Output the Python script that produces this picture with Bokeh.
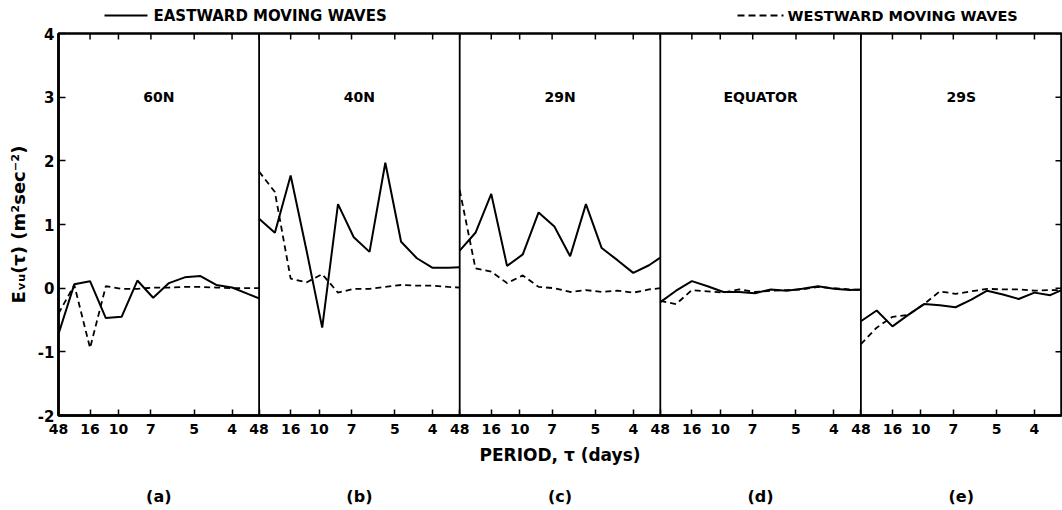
from bokeh.plotting import figure
from bokeh.models import FixedTicker, Span, Range1d
from bokeh.layouts import column
from bokeh.core.properties import value
from bokeh.embed import file_html
from bokeh.resources import INLINE

# ---------------- data ----------------
station_names = ["60N", "40N", "29N", "EQUATOR", "29S"]
panel_tags = ["(a)", "(b)", "(c)", "(d)", "(e)"]
# periods (days) of the plotted spectral estimates (harmonics of 48 days)
periods = [48, 24, 16, 12, 9.6, 8, 48 / 7, 6, 48 / 9, 4.8, 48 / 11, 4, 48 / 13, 3.5]
tick_periods = [48, 16, 10, 7, 5, 4]
tick_labels = ["48", "16", "10", "7", "5", "4"]
y_ticks = [-2, -1, 0, 1, 2, 3, 4]
y_tick_labels = ["-2", "-1", "0", "1", "2", "3", "4"]

east_60N = [-0.72, 0.06, 0.11, -0.47, -0.45, 0.12, -0.15, 0.08, 0.17, 0.19, 0.05, 0.01, -0.09, -0.16]
west_60N = [-0.40, 0.05, -0.94, 0.03, -0.01, -0.01, 0.01, 0.01, 0.02, 0.02, 0.01, 0.0, 0.0, 0.0]
east_40N = [1.09, 0.87, 1.77, 0.60, -0.62, 1.32, 0.80, 0.57, 1.97, 0.73, 0.47, 0.32, 0.32, 0.33]
west_40N = [1.83, 1.51, 0.15, 0.09, 0.22, -0.07, -0.01, -0.01, 0.02, 0.05, 0.04, 0.04, 0.02, 0.01]
east_29N = [0.59, 0.87, 1.48, 0.35, 0.53, 1.19, 0.97, 0.50, 1.32, 0.63, 0.44, 0.24, 0.36, 0.48]
west_29N = [1.54, 0.31, 0.26, 0.08, 0.20, 0.02, 0.0, -0.06, -0.03, -0.06, -0.04, -0.07, -0.02, 0.0]
east_EQ = [-0.22, -0.04, 0.11, 0.03, -0.06, -0.06, -0.08, -0.02, -0.04, -0.01, 0.03, -0.01, -0.03, -0.02]
west_EQ = [-0.20, -0.25, -0.03, -0.05, -0.07, -0.02, -0.06, -0.04, -0.03, -0.02, 0.02, 0.0, -0.02, -0.03]
east_29S = [-0.52, -0.35, -0.60, -0.42, -0.25, -0.27, -0.30, -0.18, -0.04, -0.10, -0.17, -0.07, -0.11, -0.03]
west_29S = [-0.88, -0.62, -0.45, -0.42, -0.25, -0.05, -0.09, -0.05, -0.01, -0.02, -0.02, -0.04, -0.03, -0.03]

eastward = [east_60N, east_40N, east_29N, east_EQ, east_29S]
westward = [west_60N, west_40N, west_29N, west_EQ, west_29S]

legend_east = "EASTWARD MOVING WAVES"
legend_west = "WESTWARD MOVING WAVES"

# ---------------- layout ----------------
BASE = 48.0
PMIN = 3.5
L = BASE / PMIN - 1.0          # width of one panel in harmonic units
NP = len(station_names)
XMAX = NP * L
YMIN, YMAX = -2, 4

W, H = 1062, 510
LEFT, RIGHT = 58, 1
FRAME_TOP, FRAME_BOTTOM = 33, 415
TOP_H = 26
MAIN_BOTTOM_BORDER = 58
MAIN_H = (FRAME_TOP - TOP_H) + (FRAME_BOTTOM - FRAME_TOP) + MAIN_BOTTOM_BORDER
BOT_H = H - TOP_H - MAIN_H
FW = W - LEFT - RIGHT
FH = FRAME_BOTTOM - FRAME_TOP

FONT = "DejaVu Sans"


def px_x(px):
    return (px - LEFT) * XMAX / FW


def blank_fig(h, y_range):
    f = figure(width=W, height=h, x_range=Range1d(0, XMAX), y_range=y_range,
               output_backend="svg", toolbar_location=None,
               x_axis_location=None, y_axis_location=None,
               min_border_left=LEFT, min_border_right=RIGHT,
               min_border_top=0, min_border_bottom=0)
    f.xgrid.visible = False
    f.ygrid.visible = False
    f.outline_line_color = None
    f.background_fill_color = "white"
    f.border_fill_color = "white"
    return f


# ---- top strip: legend ----
top = blank_fig(TOP_H, Range1d(TOP_H, 0))
LEG_Y = 15
top.segment(x0=[px_x(104)], y0=[LEG_Y], x1=[px_x(147)], y1=[LEG_Y],
            line_color="black", line_width=2)
top.text(x=[px_x(153)], y=[LEG_Y], text=[legend_east], text_baseline="middle",
         text_font=value(FONT), text_font_style="bold", text_font_size="15px",
         text_color="black")
top.segment(x0=[px_x(737)], y0=[LEG_Y], x1=[px_x(783)], y1=[LEG_Y],
            line_color="black", line_width=1.8, line_dash="7 4")
top.text(x=[px_x(787)], y=[LEG_Y], text=[legend_west], text_baseline="middle",
         text_font=value(FONT), text_font_style="bold", text_font_size="14.5px",
         text_color="black")

# ---- main plot ----
p = figure(width=W, height=MAIN_H, x_range=Range1d(0, XMAX), y_range=Range1d(YMIN, YMAX),
           output_backend="svg", toolbar_location=None,
           min_border_left=LEFT, min_border_right=RIGHT,
           min_border_top=FRAME_TOP - TOP_H, min_border_bottom=MAIN_BOTTOM_BORDER)
p.xgrid.visible = False
p.ygrid.visible = False
p.outline_line_color = "black"
p.outline_line_width = 2.5
p.background_fill_color = "white"
p.border_fill_color = "white"

xticks = []
overrides = {}
for i in range(NP):
    for t, lab in zip(tick_periods, tick_labels):
        v = i * L + (BASE / t - 1.0)
        xticks.append(v)
        overrides[v] = lab

xa = p.xaxis[0]
xa.ticker = FixedTicker(ticks=xticks)
xa.major_label_overrides = overrides
xa.minor_tick_line_color = None
xa.major_tick_in = 6
xa.major_tick_out = 0
xa.major_tick_line_width = 1.5
xa.axis_line_width = 2.5
xa.major_label_standoff = 8
xa.major_label_text_font = FONT
xa.major_label_text_font_style = "bold"
xa.major_label_text_font_size = "14px"
xa.major_label_text_color = "black"
xa.axis_label = "PERIOD, τ (days)"
xa.axis_label_text_font = FONT
xa.axis_label_text_font_style = "bold"
xa.axis_label_text_font_size = "17px"
xa.axis_label_text_color = "black"
xa.axis_label_standoff = 8

ya = p.yaxis[0]
ya.ticker = FixedTicker(ticks=y_ticks)
ya.major_label_overrides = {v: s for v, s in zip(y_ticks, y_tick_labels)}
ya.minor_tick_line_color = None
ya.major_tick_in = 7
ya.major_tick_out = 0
ya.major_tick_line_width = 1.5
ya.axis_line_width = 2.5
ya.major_label_standoff = 4
ya.major_label_text_font = FONT
ya.major_label_text_font_style = "bold"
ya.major_label_text_font_size = "15px"
ya.major_label_text_color = "black"
ya.axis_label = "Eᵥᵤ(τ) (m²sec⁻²)"
ya.axis_label_text_font = FONT
ya.axis_label_text_font_style = "bold"
ya.axis_label_text_font_size = "18px"
ya.axis_label_text_color = "black"
ya.axis_label_standoff = 6

# inward tick marks along the top edge and the right edge
dy_tick = 6 * (YMAX - YMIN) / FH
dx_tick = 6 * XMAX / FW
p.segment(x0=xticks, y0=[YMAX] * len(xticks), x1=xticks, y1=[YMAX - dy_tick] * len(xticks),
          line_color="black", line_width=1.5)
p.segment(x0=[XMAX] * len(y_ticks), y0=y_ticks, x1=[XMAX - dx_tick] * len(y_ticks), y1=y_ticks,
          line_color="black", line_width=1.5)

for i in range(1, NP):
    p.add_layout(Span(location=i * L, dimension="height", line_color="black", line_width=1.8))

for i in range(NP):
    xs = [i * L + (BASE / t - 1.0) for t in periods]
    p.line(xs, eastward[i], line_color="black", line_width=2)
    p.line(xs, westward[i], line_color="black", line_width=1.8, line_dash="6 4")

p.text(x=[i * L + L / 2 for i in range(NP)], y=[3] * NP, text=station_names,
       text_align="center", text_baseline="middle", text_font=value(FONT),
       text_font_style="bold", text_font_size="14px", text_color="black")

# ---- bottom strip: panel tags ----
bot = blank_fig(BOT_H, Range1d(BOT_H, 0))
TAG_Y = 496 - TOP_H - MAIN_H
bot.text(x=[i * L + L / 2 for i in range(NP)], y=[TAG_Y] * NP, text=panel_tags,
         text_align="center", text_baseline="middle", text_font=value(FONT),
         text_font_style="bold", text_font_size="16px", text_color="black")

layout = column(top, p, bot, spacing=0)
open("out.html", "w").write(file_html(layout, INLINE))
